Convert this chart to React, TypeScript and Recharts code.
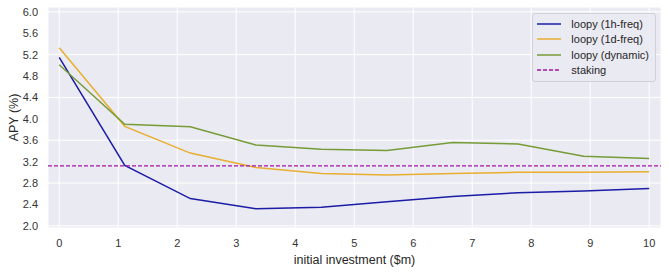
import React from 'react';
import { LineChart, Line, XAxis, YAxis, CartesianGrid, ReferenceLine } from 'recharts';

// initial investment in $m (10 evenly spaced points)
const investment = [0, 1.111, 2.222, 3.333, 4.444, 5.556, 6.667, 7.778, 8.889, 10];
const hourly = [5.15, 3.13, 2.51, 2.32, 2.35, 2.45, 2.55, 2.62, 2.65, 2.70];
const daily = [5.33, 3.86, 3.36, 3.09, 2.98, 2.95, 2.98, 3.0, 3.0, 3.01];
const dynamic = [5.01, 3.90, 3.85, 3.51, 3.43, 3.41, 3.56, 3.53, 3.30, 3.26];
const stakingApy = 3.12;

const xTicks = [0, 1, 2, 3, 4, 5, 6, 7, 8, 9, 10];
const yTicks = [2.0, 2.4, 2.8, 3.2, 3.6, 4.0, 4.4, 4.8, 5.2, 5.6, 6.0];

const series = [
    { key: 'hourly', name: 'loopy (1h-freq)', color: '#1c1ca6' },
    { key: 'daily', name: 'loopy (1d-freq)', color: '#e8ae30' },
    { key: 'dynamic', name: 'loopy (dynamic)', color: '#779b36' },
];
const stakingColor = '#a514a5';

const data = investment.map((x, i) => ({
    x,
    hourly: hourly[i],
    daily: daily[i],
    dynamic: dynamic[i],
}));

const FONT = '"Liberation Sans", Arial, sans-serif';

const LegendBox = () => {
    const items = [
        ...series.map((s) => ({ name: s.name, color: s.color, dash: undefined as string | undefined })),
        { name: 'staking', color: stakingColor, dash: '4 2' },
    ];
    return (
        <div
            style={{
                position: 'absolute',
                top: 13,
                right: 13,
                background: 'rgba(234,234,242,0.85)',
                border: '1px solid #d0d0d8',
                borderRadius: 3,
                padding: '2px 6px 3px 4px',
                fontFamily: FONT,
                fontSize: 11,
                color: '#262626',
                whiteSpace: 'nowrap',
            }}
        >
            {items.map((it) => (
                <div key={it.name} style={{ display: 'flex', alignItems: 'center', height: 15.5 }}>
                    <svg width={24} height={6} style={{ marginRight: 10, flexShrink: 0 }}>
                        <line x1={0} y1={3} x2={24} y2={3} stroke={it.color} strokeWidth={1.5} strokeDasharray={it.dash} />
                    </svg>
                    <span>{it.name}</span>
                </div>
            ))}
        </div>
    );
};

export default function App() {
    return (
        <div style={{ position: 'relative', width: 669, height: 272, background: '#fff' }}>
            <style>{`body{margin:0}`}</style>
            <LineChart width={669} height={272} data={data} margin={{ top: 7, right: 8, left: 0, bottom: 0 }}>
                <CartesianGrid fill="#EAEAF2" stroke="#ffffff" strokeWidth={1} />
                <XAxis
                    dataKey="x"
                    type="number"
                    domain={[-0.19, 10.2]}
                    ticks={xTicks}
                    axisLine={false}
                    tickLine={false}
                    tickSize={0}
                    tickMargin={11}
                    height={44}
                    tick={{ fontSize: 11, fill: '#333', fontFamily: FONT }}
                    label={{ value: 'initial investment ($m)', position: 'insideBottom', offset: 8, fontSize: 12.5, fill: '#262626', fontFamily: FONT }}
                />
                <YAxis
                    type="number"
                    domain={[1.96, 6.09]}
                    ticks={yTicks}
                    allowDataOverflow
                    axisLine={false}
                    tickLine={false}
                    tickSize={0}
                    tickMargin={10}
                    width={48}
                    tickFormatter={(v: number) => v.toFixed(1)}
                    tick={{ fontSize: 11, fill: '#333', fontFamily: FONT }}
                    label={{ value: 'APY (%)', angle: -90, position: 'insideLeft', offset: 14, fontSize: 12.5, fill: '#262626', fontFamily: FONT, style: { textAnchor: 'middle' } }}
                />
                {series.map((s) => (
                    <Line
                        key={s.key}
                        type="linear"
                        dataKey={s.key}
                        name={s.name}
                        stroke={s.color}
                        strokeWidth={1.5}
                        dot={false}
                        activeDot={false}
                        isAnimationActive={false}
                    />
                ))}
                <ReferenceLine y={stakingApy} stroke={stakingColor} strokeWidth={1.3} strokeDasharray="4 2" />
            </LineChart>
            <LegendBox />
        </div>
    );
}
